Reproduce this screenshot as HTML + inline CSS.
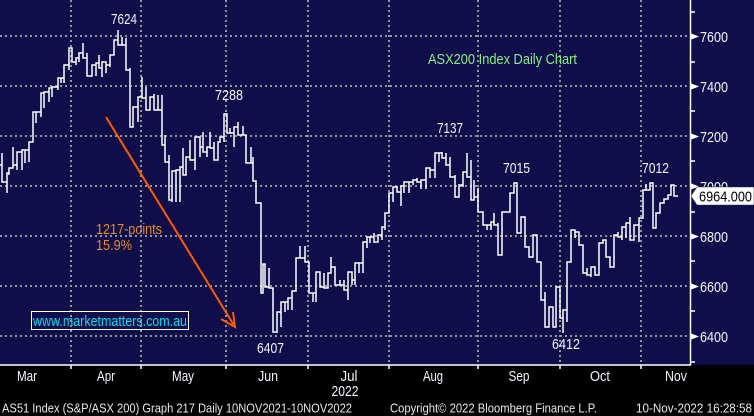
<!DOCTYPE html>
<html><head><meta charset="utf-8"><style>
html,body{margin:0;padding:0;background:#000;}
svg{display:block;font-family:"Liberation Sans",Arial,sans-serif;}
</style></head><body>
<svg width="754" height="416" viewBox="0 0 754 416" xmlns="http://www.w3.org/2000/svg">
<rect x="0" y="0" width="754" height="416" fill="#000"/>
<rect x="0" y="0" width="754" height="365" fill="#0f0d4a"/>
<g stroke="#959595" stroke-width="2" stroke-dasharray="2 3" fill="none">
<line x1="0" y1="36" x2="690" y2="36"/>
<line x1="0" y1="86" x2="690" y2="86"/>
<line x1="0" y1="136" x2="690" y2="136"/>
<line x1="0" y1="186" x2="690" y2="186"/>
<line x1="0" y1="236" x2="690" y2="236"/>
<line x1="0" y1="286" x2="690" y2="286"/>
<line x1="0" y1="336" x2="690" y2="336"/>
<line x1="71" y1="0" x2="71" y2="365"/>
<line x1="141" y1="0" x2="141" y2="365"/>
<line x1="226" y1="0" x2="226" y2="365"/>
<line x1="308" y1="0" x2="308" y2="365"/>
<line x1="389" y1="0" x2="389" y2="365"/>
<line x1="478" y1="0" x2="478" y2="365"/>
<line x1="560" y1="0" x2="560" y2="365"/>
<line x1="641" y1="0" x2="641" y2="365"/>
</g>
<path fill="none" stroke="#fff" stroke-width="1.5" d="M0 165 H2V153V182 H7V193V173 H9V175V168 H13V147V165 H17V170V152 H22V170V150 H25V163V150 H29V162V142 H33V142V112 H36V123V112 H41V117V93 H44V108V92 H49V102V88 H52V97V87 H58V90V78 H61V83V78 H64V83V65 H69V70V48 H72V53V62 H76V65V58 H79V62V53 H83V43V58 H87V53V76 H92V76V65 H96V76V63 H99V55V68 H102V77V62 H106V73V65 H110V67V55 H114V55V40 H118V30V45 H122V37V45 H126V38V70 H130V68V127 H133V127V107 H138V122V97 H142V77V98 H146V87V110 H150V110V97 H154V94V110 H158V95V110 H162V95V145 H165V135V162 H169V155V200 H172V202V171 H176V202V170 H180V202V167 H183V148V175 H186V167V157 H190V140V160 H195V170V137 H200V157V147 H203V132V152 H207V157V147 H210V132V148 H214V142V160 H218V160V142 H220V140V137 H224V142V114 H227V114V133 H230V128V133 H234V147V127 H238V122V135 H243V126V135 H246V135V163 H251V147V163 H253V157V181 H256V181V203 H261V203V293 H263V293V264 H265V264V287 H269V268V288 H273V288V332 H277V333V312 H281V327V302 H285V312V302 H288V310V298 H292V310V291 H296V291V258 H300V246V258 H305V246V262 H309V262V293 H313V302V293 H316V302V272 H320V273V287 H324V273V288 H328V288V273 H331V257V267 H335V267V285 H340V280V285 H344V280V290 H348V300V272 H352V285V280 H355V285V263 H359V273V263 H363V273V242 H367V248V237 H370V243V237 H374V233V242 H378V240V235 H382V240V227 H385V230V213 H389V213V193 H393V202V187 H397V186V192 H401V206V186 H404V193V182 H409V193V182 H413V185V180 H417V178V182 H421V189V180 H426V189V168 H430V178V170 H435V178V153 H439V162V153 H442V152V158 H446V153V165 H450V157V177 H455V175V197 H459V197V185 H463V187V172 H467V153V177 H471V160V200 H474V180V197 H478V188V212 H483V212V225 H487V230V225 H491V230V222 H494V213V225 H498V223V255 H502V212 H506 H510V193 H514V183 H517V233 H521V217 H525V247 H529V257 H533V235 H537V262 H541V300 H545V292V327 H549V307 H553V327 H556V320V287 H560V297V318 H563V333V310 H567V322V262 H571V230 H575V238V232 H579V245 H583V273 H587V268V275 H591V277V267 H595V275 H599V243 H603V240 H606V257 H610V267 H614V235 H618V232V237 H622V240V227 H626V238V223 H630V217V240 H634V225 H639V242V218 H643V190 H646V184V190 H650V183 H653V228 H656V213 H660V203 H664V199 H668V195 H671V185 H674V196 H678"/>
<!-- axes -->
<line x1="690.5" y1="0" x2="690.5" y2="365" stroke="#fff" stroke-width="1.5"/>
<line x1="0" y1="365" x2="691" y2="365" stroke="#fff" stroke-width="1.5"/>
<g stroke="#fff" stroke-width="1.5">
<line x1="71" y1="365" x2="71" y2="369"/>
<line x1="141" y1="365" x2="141" y2="369"/>
<line x1="226" y1="365" x2="226" y2="369"/>
<line x1="308" y1="365" x2="308" y2="369"/>
<line x1="389" y1="365" x2="389" y2="369"/>
<line x1="478" y1="365" x2="478" y2="369"/>
<line x1="560" y1="365" x2="560" y2="369"/>
<line x1="641" y1="365" x2="641" y2="369"/>
<line x1="690" y1="12" x2="695" y2="12"/>
<line x1="690" y1="62" x2="695" y2="62"/>
<line x1="690" y1="111" x2="695" y2="111"/>
<line x1="690" y1="161" x2="695" y2="161"/>
<line x1="690" y1="212" x2="695" y2="212"/>
<line x1="690" y1="261" x2="695" y2="261"/>
<line x1="690" y1="311" x2="695" y2="311"/>
<line x1="690" y1="362" x2="695" y2="362"/>
</g>
<g fill="#fff">
<polygon points="690,33 699,36.5 690,40"/>
<polygon points="690,83 699,86.5 690,90"/>
<polygon points="690,133 699,136.5 690,140"/>
<polygon points="690,183 699,186.5 690,190"/>
<polygon points="690,233 699,236.5 690,240"/>
<polygon points="690,283 699,286.5 690,290"/>
<polygon points="690,333 699,336.5 690,340"/>
</g>
<g fill="#f2f4ff" font-size="15">
<text x="700" y="42" textLength="28" lengthAdjust="spacingAndGlyphs">7600</text>
<text x="700" y="92" textLength="28" lengthAdjust="spacingAndGlyphs">7400</text>
<text x="700" y="142" textLength="28" lengthAdjust="spacingAndGlyphs">7200</text>
<text x="700" y="192" textLength="28" lengthAdjust="spacingAndGlyphs">7000</text>
<text x="700" y="242" textLength="28" lengthAdjust="spacingAndGlyphs">6800</text>
<text x="700" y="292" textLength="28" lengthAdjust="spacingAndGlyphs">6600</text>
<text x="700" y="342" textLength="28" lengthAdjust="spacingAndGlyphs">6400</text>
</g>
<polygon points="691,196 697,187 754,187 754,205 697,205" fill="#fff" stroke="#333" stroke-width="0.5"/>
<text x="699" y="201.5" font-size="15" fill="#000" textLength="53" lengthAdjust="spacingAndGlyphs">6964.000</text>
<!-- peak labels -->
<g fill="#f2f4ff" font-size="15">
<text x="111" y="24" textLength="26" lengthAdjust="spacingAndGlyphs">7624</text>
<text x="215" y="100" textLength="28" lengthAdjust="spacingAndGlyphs">7288</text>
<text x="437" y="133" textLength="26" lengthAdjust="spacingAndGlyphs">7137</text>
<text x="503" y="173" textLength="27" lengthAdjust="spacingAndGlyphs">7015</text>
<text x="642" y="173" textLength="27" lengthAdjust="spacingAndGlyphs">7012</text>
<text x="552" y="349" textLength="28" lengthAdjust="spacingAndGlyphs">6412</text>
<text x="257" y="353" textLength="27" lengthAdjust="spacingAndGlyphs">6407</text>
</g>
<text x="428" y="64" font-size="15" fill="#86f086" textLength="149" lengthAdjust="spacingAndGlyphs">ASX200 Index Daily Chart</text>
<text x="96" y="234" font-size="15" fill="#e8892a" textLength="66" lengthAdjust="spacingAndGlyphs">1217-points</text>
<text x="96" y="250" font-size="15" fill="#e8892a" textLength="36" lengthAdjust="spacingAndGlyphs">15.9%</text>
<!-- arrow -->
<line x1="106" y1="117" x2="235" y2="327" stroke="#ff5a00" stroke-width="2"/>
<polyline points="221,319 235,327 233,312" fill="none" stroke="#ff5a00" stroke-width="2"/>
<!-- website box -->
<rect x="31.5" y="311.5" width="157" height="18" fill="none" stroke="#fff" stroke-width="1"/>
<text x="33" y="326" font-size="15" fill="#00e0f0" textLength="154" lengthAdjust="spacingAndGlyphs">www.marketmatters.com.au</text>
<!-- months -->
<g fill="#f2f4ff" font-size="15" text-anchor="middle">
<text x="27" y="381" textLength="20" lengthAdjust="spacingAndGlyphs">Mar</text>
<text x="106" y="381" textLength="18" lengthAdjust="spacingAndGlyphs">Apr</text>
<text x="183" y="381" textLength="22" lengthAdjust="spacingAndGlyphs">May</text>
<text x="268" y="381" textLength="20" lengthAdjust="spacingAndGlyphs">Jun</text>
<text x="349" y="381" textLength="17" lengthAdjust="spacingAndGlyphs">Jul</text>
<text x="345" y="396" textLength="27" lengthAdjust="spacingAndGlyphs">2022</text>
<text x="433" y="381" textLength="20" lengthAdjust="spacingAndGlyphs">Aug</text>
<text x="519" y="381" textLength="21" lengthAdjust="spacingAndGlyphs">Sep</text>
<text x="600" y="381" textLength="20" lengthAdjust="spacingAndGlyphs">Oct</text>
<text x="676" y="381" textLength="22" lengthAdjust="spacingAndGlyphs">Nov</text>
</g>
<g fill="#e6e6e6" font-size="13">
<text x="2" y="412.5" textLength="350" lengthAdjust="spacingAndGlyphs">AS51 Index (S&amp;P/ASX 200) Graph 217  Daily 10NOV2021-10NOV2022</text>
<text x="390" y="412.5" textLength="207" lengthAdjust="spacingAndGlyphs">Copyright© 2022 Bloomberg Finance L.P.</text>
<text x="636" y="412.5" textLength="116" lengthAdjust="spacingAndGlyphs">10-Nov-2022 16:28:58</text>
</g>
</svg>
</body></html>
